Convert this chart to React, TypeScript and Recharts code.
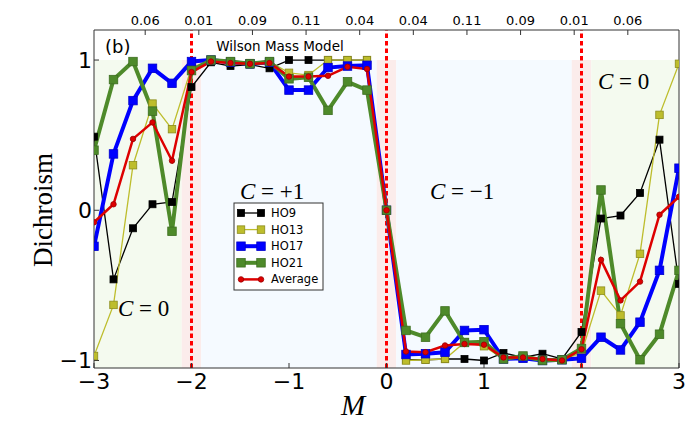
import React from "react";
import {
  Line,
  LineChart,
  ReferenceArea,
  ReferenceLine,
  XAxis,
  YAxis,
} from "recharts";

const massValues = [
  -3, -2.8, -2.6, -2.4, -2.2, -2, -1.8, -1.6, -1.4, -1.2, -1, -0.8, -0.6, -0.4, -0.2, 0,
  0.2, 0.4, 0.6, 0.8, 1, 1.2, 1.4, 1.6, 1.8, 2, 2.2, 2.4, 2.6, 2.8, 3,
];

const ho9 = [
  0.49, -0.46, -0.12, 0.04, 0.055, 0.82, 0.985, 0.96, 0.97, 0.945, 1.0, 1.0, 1.0, 1.0, 1.0, 0.0,
  -0.995, -0.995, -0.99, -0.99, -1.0, -0.95, -0.98, -0.955, -0.99, -0.81, -0.055, -0.035, 0.115, 0.47, -0.49,
];

const ho13 = [
  -0.97, -0.63, 0.3, 0.71, 0.54, 0.95, 1.0, 0.99, 0.98, 0.99, 0.915, 0.9, 1.0, 1.0, 1.0, 0.0,
  -1.0, -0.995, -0.99, -0.88, -0.905, -0.99, -0.985, -0.995, -0.995, -0.95, -0.535, -0.7, -0.29, 0.635, 0.975,
];

const ho17 = [
  -0.24, 0.375, 0.73, 0.945, 0.845, 0.99, 1.0, 0.985, 0.975, 0.985, 0.8, 0.8, 0.95, 0.96, 0.965, 0.0,
  -0.96, -0.955, -0.945, -0.8, -0.795, -0.99, -0.985, -1.0, -0.995, -0.985, -0.845, -0.93, -0.745, -0.4, 0.28,
];

const ho21 = [
  0.4, 0.87, 0.99, 0.66, -0.14, 0.93, 1.0, 0.99, 0.975, 0.99, 0.875, 0.885, 0.665, 0.855, 0.8, 0.0,
  -0.8, -0.845, -0.67, -0.88, -0.875, -0.99, -0.97, -1.0, -0.995, -0.92, 0.135, -0.755, -0.995, -0.825, -0.4,
];

const average = [
  -0.08, 0.04, 0.475, 0.585, 0.33, 0.92, 0.99, 0.98, 0.975, 0.98, 0.89, 0.89, 0.895, 0.955, 0.94, 0.0,
  -0.94, -0.945, -0.9, -0.89, -0.895, -0.98, -0.98, -0.99, -1.0, -0.925, -0.33, -0.6, -0.475, -0.03, 0.09,
];

const bottomTicks = [-3, -2, -1, 0, 1, 2, 3];
const leftTicks = [-1, 0, 1];
const topTicks = [-2.475, -1.925, -1.375, -0.825, -0.275, 0.275, 0.825, 1.375, 1.925, 2.475];
const topLabels = ["0.06", "0.01", "0.09", "0.11", "0.04", "0.04", "0.11", "0.09", "0.01", "0.06"];
const transitions = [-2, 0, 2];

const GREEN_BG = "#f4faef";
const BLUE_BG = "#f5faff";
const PINK_BG = "#fbeceb";

const bands = [
  { x1: -3, x2: -2.1, fill: GREEN_BG },
  { x1: -2.1, x2: -1.9, fill: PINK_BG },
  { x1: -1.9, x2: -0.1, fill: BLUE_BG },
  { x1: -0.1, x2: 0.1, fill: PINK_BG },
  { x1: 0.1, x2: 1.9, fill: BLUE_BG },
  { x1: 1.9, x2: 2.1, fill: PINK_BG },
  { x1: 2.1, x2: 3, fill: GREEN_BG },
];

const series = [
  { key: "ho9", name: "HO9", color: "#000000", edge: "#000000", width: 1.3, marker: "square", size: 7 },
  { key: "ho13", name: "HO13", color: "#bdbd2c", edge: "#8c8c1c", width: 1.3, marker: "square", size: 7.5 },
  { key: "ho17", name: "HO17", color: "#0000ff", edge: "#0000cc", width: 4, marker: "square", size: 8.5 },
  { key: "ho21", name: "HO21", color: "#4e8a2a", edge: "#3d6e20", width: 4, marker: "square", size: 8.5 },
  { key: "avg", name: "Average", color: "#dd0000", edge: "#990000", width: 2.5, marker: "circle", size: 5.5 },
];

const data = massValues.map((m, i) => ({
  m,
  ho9: ho9[i],
  ho13: ho13[i],
  ho17: ho17[i],
  ho21: ho21[i],
  avg: average[i],
}));

const SANS = "'DejaVu Sans', sans-serif";
const SERIF = "'Liberation Serif', 'DejaVu Serif', serif";

function formatMinus(v: number): string {
  return v < 0 ? `\u2212${Math.abs(v)}` : `${v}`;
}

function topLabel(v: number): string {
  const i = topTicks.findIndex((t) => Math.abs(t - v) < 1e-6);
  return i >= 0 ? topLabels[i] : "";
}

function makeDot(s: (typeof series)[number]) {
  return (props: any) => {
    const { cx, cy, index } = props;
    if (cx == null || cy == null) return <g key={`${s.key}-${index}`} />;
    if (s.marker === "circle") {
      return (
        <circle
          key={`${s.key}-${index}`}
          cx={cx}
          cy={cy}
          r={s.size / 2}
          fill={s.color}
          stroke={s.edge}
          strokeWidth={0.8}
        />
      );
    }
    return (
      <rect
        key={`${s.key}-${index}`}
        x={cx - s.size / 2}
        y={cy - s.size / 2}
        width={s.size}
        height={s.size}
        fill={s.color}
        stroke={s.edge}
        strokeWidth={0.8}
      />
    );
  };
}

function Marker({ s, x, y }: { s: (typeof series)[number]; x: number; y: number }) {
  if (s.marker === "circle") {
    return <circle cx={x} cy={y} r={s.size / 2} fill={s.color} stroke={s.edge} strokeWidth={0.8} />;
  }
  return (
    <rect
      x={x - s.size / 2}
      y={y - s.size / 2}
      width={s.size}
      height={s.size}
      fill={s.color}
      stroke={s.edge}
      strokeWidth={0.8}
    />
  );
}

function Annotations() {
  const legendX = 234;
  const legendY = 203;
  return (
    <svg
      width={696}
      height={429}
      style={{ position: "absolute", left: 0, top: 0, pointerEvents: "none" }}
    >
      <text x={105} y={53} fontFamily={SANS} fontSize={18} fill="#000">
        (b)
      </text>
      <text x={280} y={51} textAnchor="middle" fontFamily={SANS} fontSize={13.5} fill="#000">
        Wilson Mass Model
      </text>
      <text x={240} y={199} fontFamily={SERIF} fontSize={23} fill="#000">
        <tspan fontStyle="italic">C</tspan>
        <tspan> = +1</tspan>
      </text>
      <text x={430} y={199} fontFamily={SERIF} fontSize={23} fill="#000">
        <tspan fontStyle="italic">C</tspan>
        <tspan> = {"\u2212"}1</tspan>
      </text>
      <text x={598} y={89} fontFamily={SERIF} fontSize={23} fill="#000">
        <tspan fontStyle="italic">C</tspan>
        <tspan> = 0</tspan>
      </text>
      <text x={118} y={316} fontFamily={SERIF} fontSize={23} fill="#000">
        <tspan fontStyle="italic">C</tspan>
        <tspan> = 0</tspan>
      </text>
      <text
        x={0}
        y={0}
        transform="translate(52 210) rotate(-90)"
        textAnchor="middle"
        fontFamily={SERIF}
        fontSize={27}
        fill="#000"
      >
        Dichroism
      </text>
      <text x={353} y={415} textAnchor="middle" fontFamily={SERIF} fontStyle="italic" fontSize={29} fill="#000">
        M
      </text>
      <rect x={legendX} y={legendY} width={89} height={87} fill="#ffffff" stroke="#333" strokeWidth={1} />
      {series.map((s, i) => {
        const y = legendY + 10 + i * 16.6;
        return (
          <g key={s.key}>
            <line x1={legendX + 7} x2={legendX + 27} y1={y} y2={y} stroke={s.color} strokeWidth={s.width} />
            <Marker s={s} x={legendX + 7} y={y} />
            <Marker s={s} x={legendX + 27} y={y} />
            <text x={legendX + 37} y={y} dominantBaseline="central" fontFamily={SANS} fontSize={11.5} fill="#000">
              {s.name}
            </text>
          </g>
        );
      })}
    </svg>
  );
}

export default function App() {
  return (
    <div style={{ position: "absolute", left: 0, top: 0, width: 696, height: 429, background: "#fff" }}>
      <LineChart width={696} height={429} data={data} margin={{ top: 8, right: 16, bottom: 21, left: 54 }}>
        <XAxis
          xAxisId="bottom"
          dataKey="m"
          type="number"
          domain={[-3, 3]}
          ticks={bottomTicks}
          allowDataOverflow
          height={40}
          tickFormatter={formatMinus}
          tickSize={-5}
          tickMargin={10}
          tick={{ fontSize: 22, fill: "#000", fontFamily: SANS }}
          stroke="#333"
        />
        <XAxis
          xAxisId="top"
          dataKey="m"
          orientation="top"
          type="number"
          domain={[-3, 3]}
          ticks={topTicks}
          interval={0}
          allowDataOverflow
          height={22}
          tickFormatter={topLabel}
          tickSize={-5}
          tickMargin={10}
          tick={{ fontSize: 13, fill: "#000", fontFamily: SANS }}
          stroke="#333"
        />
        <YAxis
          yAxisId="left"
          type="number"
          domain={[-1.05, 1.2]}
          ticks={leftTicks}
          allowDataOverflow
          width={40}
          tickFormatter={formatMinus}
          tickSize={-5}
          tickMargin={7}
          tick={{ fontSize: 22, fill: "#000", fontFamily: SANS }}
          stroke="#333"
        />
        <YAxis
          yAxisId="right"
          orientation="right"
          type="number"
          domain={[-1.05, 1.2]}
          ticks={leftTicks}
          allowDataOverflow
          width={1}
          tick={false}
          tickSize={-5}
          stroke="#333"
        />
        {bands.map((b, i) => (
          <ReferenceArea
            key={i}
            xAxisId="bottom"
            yAxisId="left"
            x1={b.x1}
            x2={b.x2}
            y1={-1.05}
            y2={1}
            fill={b.fill}
            fillOpacity={1}
            stroke="none"
            ifOverflow="hidden"
          />
        ))}
        {transitions.map((x) => (
          <ReferenceLine
            key={x}
            xAxisId="bottom"
            yAxisId="left"
            x={x}
            stroke="#ff0000"
            strokeWidth={3}
            strokeDasharray="4.5 3"
          />
        ))}
        {series.map((s) => (
          <Line
            key={s.key}
            xAxisId="bottom"
            yAxisId="left"
            type="linear"
            dataKey={s.key}
            name={s.name}
            stroke={s.color}
            strokeWidth={s.width}
            dot={makeDot(s)}
            activeDot={false}
            isAnimationActive={false}
          />
        ))}
      </LineChart>
      <Annotations />
    </div>
  );
}
